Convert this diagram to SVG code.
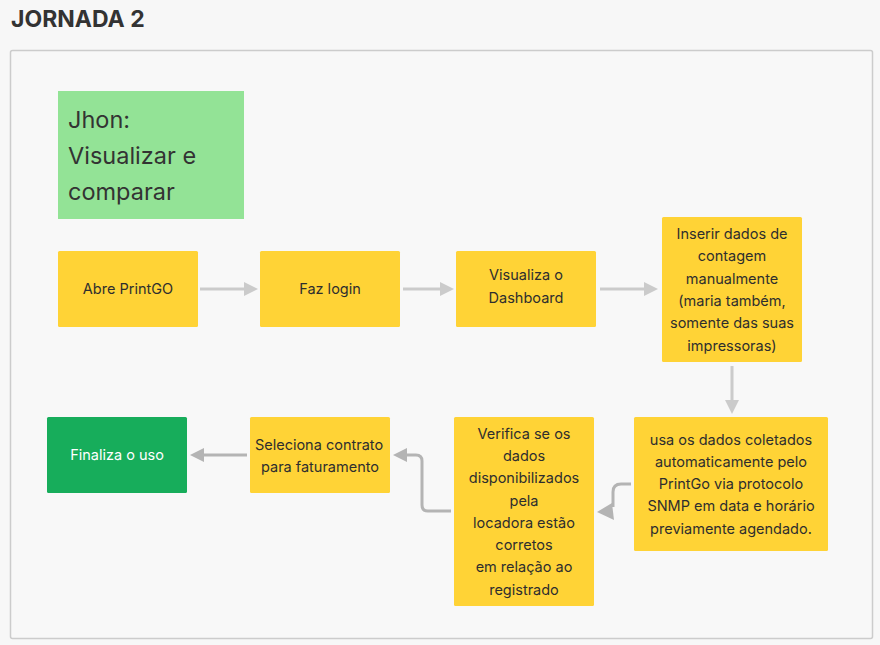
<svg xmlns="http://www.w3.org/2000/svg" width="880" height="645" viewBox="0 0 880 645">
<style>
.t{font-family:Inter,"Liberation Sans",sans-serif;fill:#2e2e2e;font-size:14.5px;text-anchor:middle}
.y{fill:#ffd336}
.c{fill:none;stroke:#cbcbcb;stroke-width:3}
.c2{fill:none;stroke:#b4b4b4;stroke-width:3}
.h{fill:#cbcbcb}
.h2{fill:#b4b4b4}
</style>
<rect x="0" y="0" width="880" height="645" fill="#f7f7f7"/>
<text x="11" y="27" font-family="Inter,'Liberation Sans',sans-serif" font-weight="bold" font-size="23" fill="#333">JORNADA 2</text>
<rect x="10.5" y="50.5" width="862" height="588" rx="2" fill="#f8f8f8" stroke="#cccccc" stroke-width="1.5"/>

<g id="jhon">
<rect x="58" y="91" width="186" height="128" fill="#93e396"/>
<text font-family="Inter,'Liberation Sans',sans-serif" font-size="23.5" fill="#333"><tspan x="68" y="128">Jhon:</tspan><tspan x="68" y="164">Visualizar e</tspan><tspan x="68" y="200">comparar</tspan></text>
</g>

<g id="connectors">
<line class="c" x1="200" y1="289" x2="245" y2="289"/>
<polygon class="h" points="244,282 258,289 244,296"/>
<line class="c" x1="403" y1="289" x2="441" y2="289"/>
<polygon class="h" points="440,282 454,289 440,296"/>
<line class="c" x1="600" y1="289" x2="645" y2="289"/>
<polygon class="h" points="644,282 658,289 644,296"/>
<line class="c" x1="732" y1="366" x2="732" y2="401"/>
<polygon class="h" points="725,400 732,414 739,400"/>
<path class="c2" d="M631,484 H621 Q613,484 613,492 V507"/>
<polygon class="h2" points="597,512 612,503 614,520"/>
<path class="c2" d="M451,511 H428 Q422,511 422,505 V461 Q422,455 416,455 H406"/>
<polygon class="h2" points="393,455 407,448 407,462"/>
<line class="c2" x1="247" y1="455" x2="203" y2="455"/>
<polygon class="h2" points="190,455 204,448 204,462"/>
</g>

<g id="n1"><rect class="y" x="58" y="251" width="140" height="76" rx="1.5"/><text class="t" x="128" y="294">Abre PrintGO</text></g>
<g id="n2"><rect class="y" x="260" y="251" width="140" height="76" rx="1.5"/><text class="t" x="330" y="294">Faz login</text></g>
<g id="n3"><rect class="y" x="456" y="251" width="140" height="76" rx="1.5"/><text class="t"><tspan x="526" y="280">Visualiza o</tspan><tspan x="526" y="303">Dashboard</tspan></text></g>
<g id="n4"><rect class="y" x="662" y="217" width="140" height="145" rx="1.5"/><text class="t"><tspan x="732" y="239">Inserir dados de</tspan><tspan x="732" y="261">contagem</tspan><tspan x="732" y="284">manualmente</tspan><tspan x="732" y="306">(maria também,</tspan><tspan x="732" y="328">somente das suas</tspan><tspan x="732" y="351">impressoras)</tspan></text></g>
<g id="n5"><rect class="y" x="634" y="417" width="194" height="134" rx="1.5"/><text class="t"><tspan x="731" y="445">usa os dados coletados</tspan><tspan x="731" y="467">automaticamente pelo</tspan><tspan x="731" y="489">PrintGo via protocolo</tspan><tspan x="731" y="511">SNMP em data e horário</tspan><tspan x="731" y="534">previamente agendado.</tspan></text></g>
<g id="n6"><rect class="y" x="454" y="417" width="140" height="189" rx="1.5"/><text class="t"><tspan x="524" y="439">Verifica se os</tspan><tspan x="524" y="461">dados</tspan><tspan x="524" y="483">disponibilizados</tspan><tspan x="524" y="506">pela</tspan><tspan x="524" y="528">locadora estão</tspan><tspan x="524" y="550">corretos</tspan><tspan x="524" y="572">em relação ao</tspan><tspan x="524" y="595">registrado</tspan></text></g>
<g id="n7"><rect class="y" x="250" y="417" width="140" height="76" rx="1.5"/><text class="t"><tspan x="319" y="450">Seleciona contrato</tspan><tspan x="320" y="472">para faturamento</tspan></text></g>
<g id="n8"><rect x="47" y="417" width="140" height="76" rx="1.5" fill="#17ad5b"/><text class="t" x="117" y="460" style="fill:#ffffff">Finaliza o uso</text></g>
</svg>
